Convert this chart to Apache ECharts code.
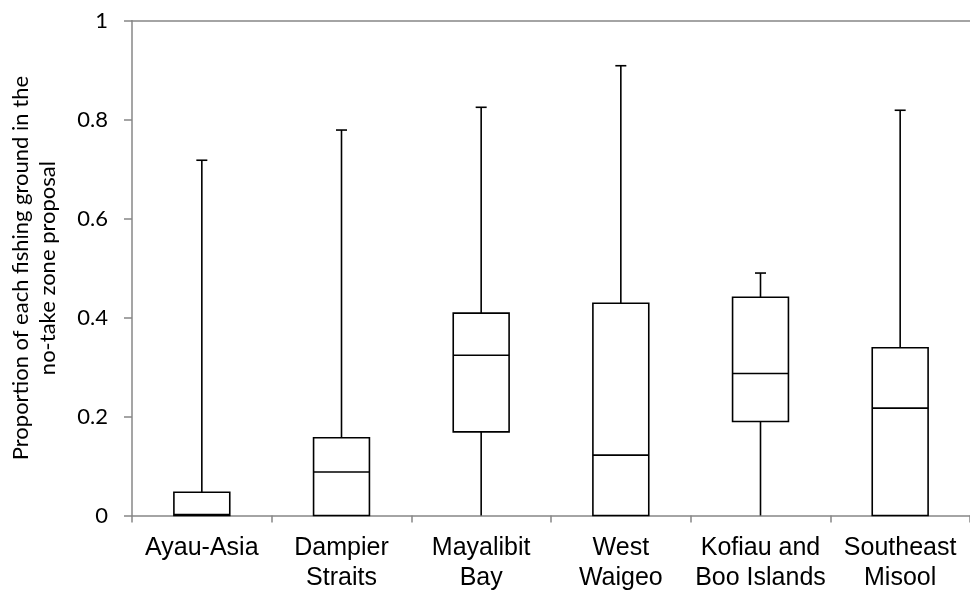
<!DOCTYPE html>
<html><head><meta charset="utf-8">
<script src="https://cdn.jsdelivr.net/npm/echarts@6/dist/echarts.min.js"></script>
<style>html,body{margin:0;padding:0;background:#fff}#c{width:970px;height:594px}</style>
</head><body><div id="c"></div>
<script>
const categories = ['Ayau-Asia', 'Dampier\nStraits', 'Mayalibit\nBay', 'West\nWaigeo', 'Kofiau and\nBoo Islands', 'Southeast\nMisool'];
const minVals    = [0, 0, 0, 0, 0, 0];
const q1Vals     = [0, 0, 0.169, 0, 0.190, 0];
const medianVals = [0.002, 0.088, 0.324, 0.122, 0.287, 0.217];
const q3Vals     = [0.047, 0.157, 0.409, 0.429, 0.441, 0.339];
const maxVals    = [0.718, 0.779, 0.825, 0.909, 0.490, 0.819];
const yTicks = [0, 0.2, 0.4, 0.6, 0.8, 1];

const data = categories.map((c, i) => [i, minVals[i], q1Vals[i], medianVals[i], q3Vals[i], maxVals[i]]);

const chart = echarts.init(document.getElementById('c'));
const lineStyle = {stroke: '#000', lineWidth: 1.6};
chart.setOption({
  animation: false,
  grid: {left: 132, right: 0, top: 20.7, bottom: 78.5, containLabel: false, outerBoundsMode: 'none'},
  xAxis: [{
    type: 'category', data: categories, boundaryGap: true,
    axisLine: {lineStyle: {color: '#878787', width: 1.5}},
    axisTick: {show: true, alignWithLabel: false, length: 7, lineStyle: {color: '#878787', width: 1.5}},
    axisLabel: {color: '#000', fontFamily: 'Liberation Sans', fontSize: 25, lineHeight: 30, margin: 18, interval: 0}
  }, {
    type: 'category', data: categories, position: 'top',
    axisLine: {show: true, lineStyle: {color: '#878787', width: 1.5}},
    axisTick: {show: false}, axisLabel: {show: false}
  }],
  yAxis: {
    type: 'value', min: 0, max: 1, interval: 0.2,
    axisLine: {show: true, lineStyle: {color: '#878787', width: 1.5}},
    axisTick: {show: true, length: 8, lineStyle: {color: '#878787', width: 1.5}},
    splitLine: {show: false},
    axisLabel: {color: '#000', fontFamily: 'Lato', fontSize: 22, margin: 24,
      formatter: v => { const t = yTicks.find(x => Math.abs(x - v) < 1e-9); return t === undefined ? '' : String(t); }},
    name: 'Proportion of each fishing ground in the\nno-take zone proposal',
    nameLocation: 'middle', nameGap: 71, nameRotate: 90,
    nameTextStyle: {color: '#000', fontFamily: 'Lato', fontSize: 22, lineHeight: 27}
  },
  series: [{
    type: 'custom',
    data: data,
    encode: {x: 0, y: [1, 2, 3, 4, 5]},
    renderItem: function (params, api) {
      const idx = api.value(0);
      const band = api.size([1, 0])[0];
      const bw = band * 0.4;
      const capW = 11;
      const pMin = api.coord([idx, api.value(1)]);
      const pQ1 = api.coord([idx, api.value(2)]);
      const pMed = api.coord([idx, api.value(3)]);
      const pQ3 = api.coord([idx, api.value(4)]);
      const pMax = api.coord([idx, api.value(5)]);
      const x = pMed[0];
      const children = [];
      children.push({type: 'line', shape: {x1: x, y1: pQ3[1], x2: x, y2: pMax[1]}, style: lineStyle});
      children.push({type: 'line', shape: {x1: x - capW / 2, y1: pMax[1], x2: x + capW / 2, y2: pMax[1]}, style: lineStyle});
      if (pMin[1] > pQ1[1] + 0.5) {
        children.push({type: 'line', shape: {x1: x, y1: pQ1[1], x2: x, y2: pMin[1]}, style: lineStyle});
      }
      children.push({type: 'rect', shape: {x: x - bw / 2, y: pQ3[1], width: bw, height: pQ1[1] - pQ3[1]},
        style: {fill: '#fff', stroke: '#000', lineWidth: 1.6}});
      children.push({type: 'line', shape: {x1: x - bw / 2, y1: pMed[1], x2: x + bw / 2, y2: pMed[1]}, style: lineStyle});
      return {type: 'group', children: children};
    }
  }]
});
</script></body></html>
